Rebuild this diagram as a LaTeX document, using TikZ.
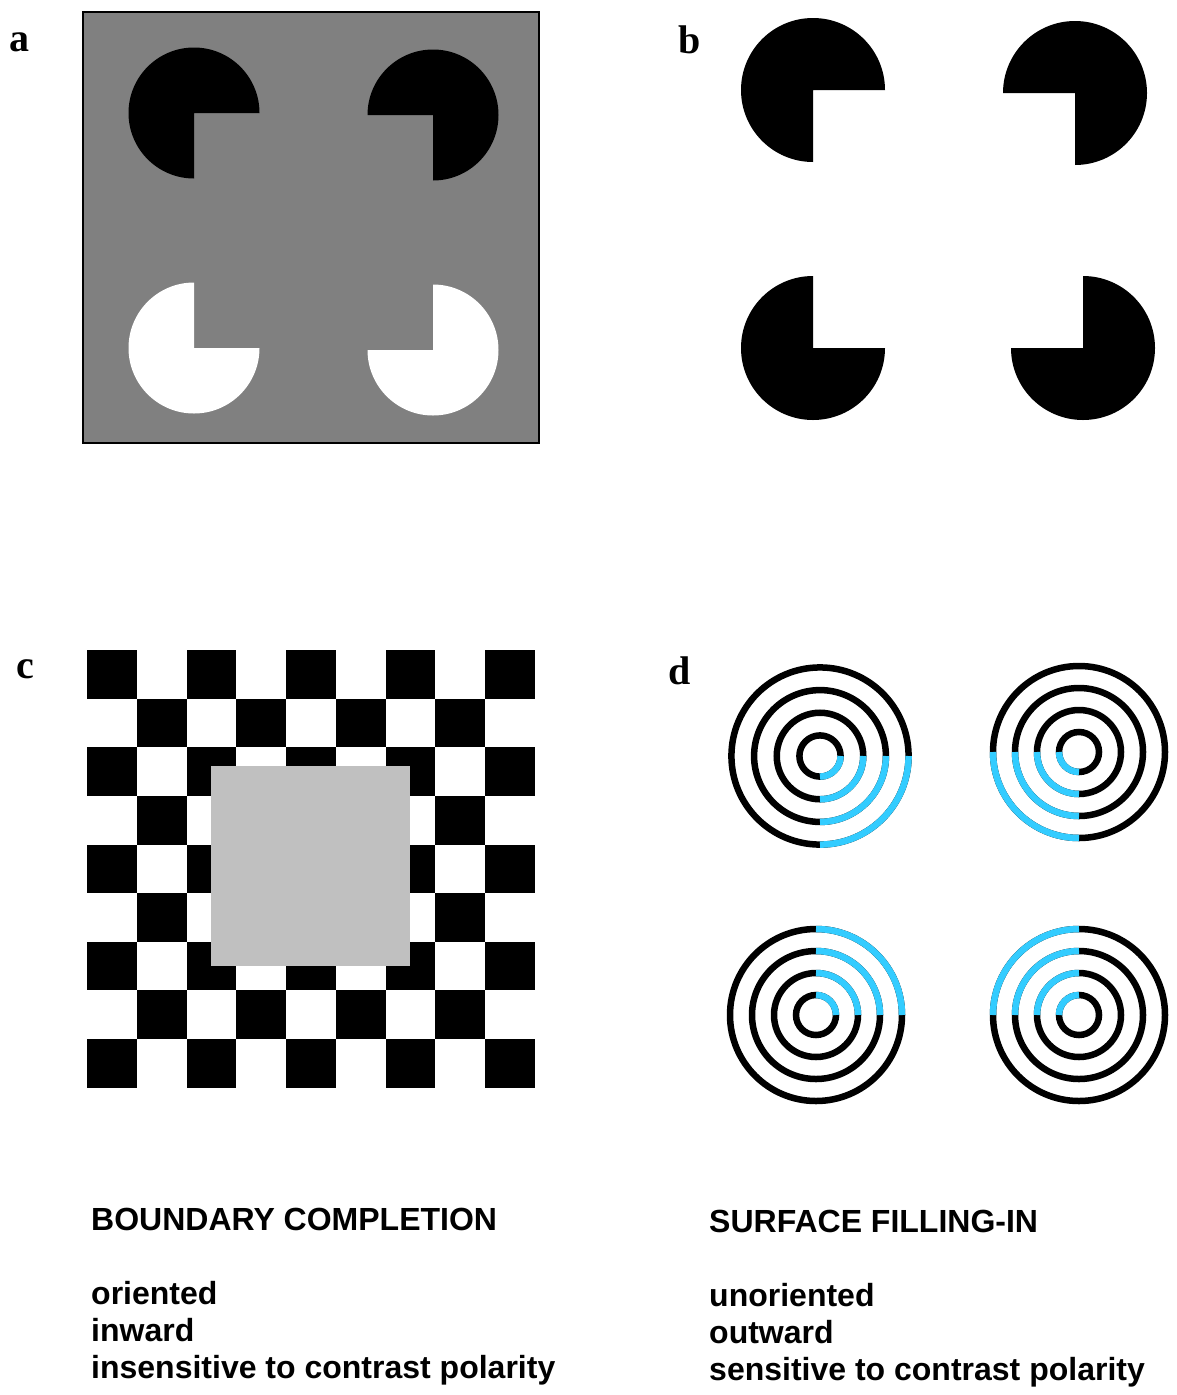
\documentclass[tikz,border=0pt]{standalone}
\usepackage{fontspec}
\setmainfont{Liberation Serif}
\newfontfamily\arialfont{Liberation Sans}
\usetikzlibrary{positioning}

\definecolor{midgray}{RGB}{128,128,128}
\definecolor{fillgray}{RGB}{192,192,192}
\definecolor{ringblue}{RGB}{51,204,255}

\tikzset{
  panellabel/.style={anchor=base west,inner sep=0pt,font=\fontsize{40}{40}\selectfont\bfseries},
  headtext/.style={anchor=base west,inner sep=0pt,font=\arialfont\fontsize{32}{37}\selectfont\bfseries},
  ringline/.style={line width=6.5pt,black},
  bluearc/.style={line width=6.5pt,ringblue},
}

\begin{document}
\begin{tikzpicture}[x=1pt,y=-1pt]
  \useasboundingbox (0,0) rectangle (1176,1395);

  % a: pacmen on gray
  \filldraw[fill=midgray,draw=black,line width=1.5pt] (83,12) rectangle (539,443);
  \foreach \cx/\cy/\sa/\col in {194/113/90/black,433/115/180/black,194/348/0/white,433/350/270/white}
    \fill[\col] (\cx,\cy) -- ++(\sa:65.5) arc[start angle=\sa,delta angle=270,radius=65.5] -- cycle;

  % b: pacmen on white
  \foreach \cx/\cy/\sa in {813/90/90,1075/93/180,813/348/0,1083/348/270}
    \fill (\cx,\cy) -- ++(\sa:72) arc[start angle=\sa,delta angle=270,radius=72] -- cycle;

  % c: checkerboard
  \foreach \i in {0,...,8}
    \foreach \j in {0,...,8} {
      \pgfmathtruncatemacro\cellsum{\i+\j}
      \ifodd\cellsum\else
        \fill (87+49.78*\i,650+48.63*\j) rectangle ++(49.78,48.63);
      \fi
    }
  \fill[fillgray] (211,766) rectangle (410,966);

  % d: rings with blue quadrants
  \foreach \cx/\cy/\s/\sa in {820/756/1.03/0,1079/752/1/90,816/1015/1/270,1079/1015/1/180}
    \foreach \r in {86,64,42,20} {
      \draw[ringline] (\cx,\cy) circle[radius=\s*\r];
      \draw[bluearc] (\cx,\cy) ++(\sa:\s*\r) arc[start angle=\sa,delta angle=90,radius=\s*\r];
    }

  \node[panellabel] (lbla) at (9,51) {a};
  \node[panellabel] (lblb) at (678,53) {b};
  \node[panellabel] (lblc) at (16,678) {c};
  \node[panellabel] (lbld) at (668,684) {d};

  \node[headtext] (bchead) at (91,1230) {BOUNDARY COMPLETION};
  \node[headtext] (bcone) at (91,1304) {oriented};
  \node[headtext] (bctwo) at (91,1341) {inward};
  \node[headtext] (bcthree) at (91,1378) {insensitive to contrast polarity};

  \node[headtext] (sfhead) at (709,1232) {SURFACE FILLING-IN};
  \node[headtext] (sfone) at (709,1306) {unoriented};
  \node[headtext] (sftwo) at (709,1343) {outward};
  \node[headtext] (sfthree) at (709,1380) {sensitive to contrast polarity};
\end{tikzpicture}
\end{document}
